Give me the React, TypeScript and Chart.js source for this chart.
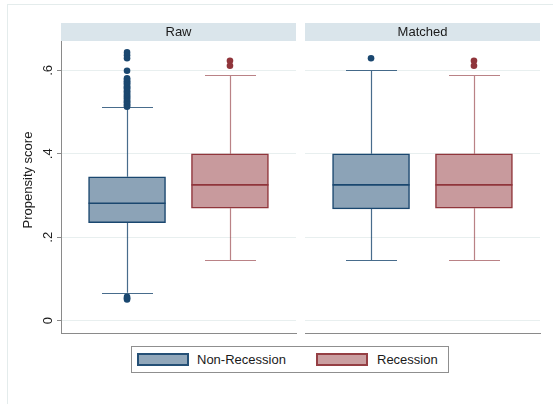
import React, { useEffect, useRef } from 'react';
import { Chart, registerables } from 'chart.js';

Chart.register(...registerables);

const FONT = '"Liberation Sans", Arial, Helvetica, sans-serif';

const groups = ['Non-Recession', 'Recession'];
const groupPositions = [0, 1];
const panelTitles = ['Raw', 'Matched'];
const yTickValues = [0, 0.2, 0.4, 0.6];
const yTickLabels = ['0', '.2', '.4', '.6'];
const yTitle = 'Propensity score';

// Box summaries: lower adjacent, 25th pct, median, 75th pct, upper adjacent
const rawNonRecession = [0.067, 0.235, 0.2815, 0.345, 0.512];
const rawRecession = [0.145, 0.2695, 0.3255, 0.4, 0.589];
const matchedNonRecession = [0.145, 0.268, 0.3255, 0.4, 0.6];
const matchedRecession = [0.145, 0.2695, 0.3255, 0.4, 0.589];

// Values outside the adjacent values
const rawNonRecessionOutliers = [
  0.051, 0.054, 0.057,
  0.513, 0.516, 0.519, 0.523, 0.525, 0.528, 0.532, 0.534, 0.538, 0.541, 0.543,
  0.547, 0.55, 0.553, 0.557, 0.559, 0.562, 0.566, 0.569, 0.572, 0.574, 0.578,
  0.581, 0.599, 0.629, 0.636, 0.643,
];
const rawRecessionOutliers = [0.611, 0.623];
const matchedNonRecessionOutliers = [0.629];
const matchedRecessionOutliers = [0.611, 0.623];

const boxFills = ['#8CA3B7', '#C89A9D'];
const boxLines = ['#1A476F', '#90353B'];
const whiskerColors = ['rgba(26,71,111,0.8)', 'rgba(144,53,59,0.62)'];

const Y_MIN = -0.0295;
const Y_MAX = 0.6703;
const X_MIN = -0.6416;
const X_MAX = 1.6416;
const CAP_HALF = 25.5;

const AXIS_COLOR = '#8a8a8a';
const GRID_COLOR = '#e8efef';
const BAND_COLOR = '#DAE5EB';
const TEXT_COLOR = '#1a1a1a';

function makeBoxPlugin(stats: number[][]) {
  return {
    id: 'boxParts',
    beforeDatasetsDraw(chart: any) {
      const { ctx } = chart;
      const x = chart.scales.x;
      const y = chart.scales.y;
      ctx.save();
      ctx.lineWidth = 1.2;
      stats.forEach((s, i) => {
        const cx = Math.round(x.getPixelForValue(groupPositions[i])) + 0.5;
        ctx.strokeStyle = whiskerColors[i];
        ctx.beginPath();
        ctx.moveTo(cx, y.getPixelForValue(s[0]));
        ctx.lineTo(cx, y.getPixelForValue(s[1]));
        ctx.moveTo(cx, y.getPixelForValue(s[3]));
        ctx.lineTo(cx, y.getPixelForValue(s[4]));
        for (const v of [s[0], s[4]]) {
          const py = Math.round(y.getPixelForValue(v)) + 0.5;
          ctx.moveTo(cx - CAP_HALF, py);
          ctx.lineTo(cx + CAP_HALF, py);
        }
        ctx.stroke();
      });
      ctx.restore();
    },
    afterDatasetsDraw(chart: any) {
      const { ctx } = chart;
      const y = chart.scales.y;
      ctx.save();
      ctx.lineWidth = 1.6;
      stats.forEach((s, i) => {
        const bar = chart.getDatasetMeta(i).data[0];
        if (!bar) return;
        const { x: bx, width } = bar.getProps(['x', 'width'], true);
        const py = y.getPixelForValue(s[2]);
        ctx.strokeStyle = boxLines[i];
        ctx.beginPath();
        ctx.moveTo(bx - width / 2, py);
        ctx.lineTo(bx + width / 2, py);
        ctx.stroke();
      });
      ctx.restore();
    },
  };
}

function makeBandPlugin(title: string) {
  return {
    id: 'panelBand',
    afterDraw(chart: any) {
      const { ctx, chartArea } = chart;
      const h = 18;
      ctx.save();
      ctx.fillStyle = BAND_COLOR;
      ctx.fillRect(chartArea.left, chartArea.top - h, chartArea.right - chartArea.left, h);
      ctx.fillStyle = TEXT_COLOR;
      ctx.font = `13px ${FONT}`;
      ctx.textAlign = 'center';
      ctx.textBaseline = 'middle';
      ctx.fillText(title, (chartArea.left + chartArea.right) / 2, chartArea.top - h / 2 + 0.5);
      ctx.restore();
    },
  };
}

const yTitlePlugin = {
  id: 'yTitle',
  afterDraw(chart: any) {
    const { ctx } = chart;
    ctx.save();
    ctx.translate(28.5, 180);
    ctx.rotate(-Math.PI / 2);
    ctx.fillStyle = TEXT_COLOR;
    ctx.font = `13px ${FONT}`;
    ctx.textAlign = 'center';
    ctx.textBaseline = 'middle';
    ctx.fillText(yTitle, 0, 0);
    ctx.restore();
  },
};

function buildConfig(
  title: string,
  stats: number[][],
  outliers: number[][],
  withAxis: boolean
): any {
  const barSets = stats.map((s, i) => ({
    type: 'bar',
    label: groups[i],
    data: [{ x: groupPositions[i], y: [s[1], s[3]] }],
    backgroundColor: boxFills[i],
    borderColor: boxLines[i],
    borderWidth: 1.5,
    borderSkipped: false,
    grouped: false,
    barPercentage: 1,
    categoryPercentage: 1,
    maxBarThickness: 77,
  }));
  const pointSets = outliers.map((vals, i) => ({
    type: 'scatter',
    label: groups[i] + ' outliers',
    data: vals.map((v) => ({ x: groupPositions[i], y: v })),
    pointRadius: 3.3,
    pointBorderWidth: 0,
    pointBackgroundColor: boxLines[i],
    borderColor: boxLines[i],
  }));
  const plugins: any[] = [makeBoxPlugin(stats), makeBandPlugin(title)];
  if (withAxis) plugins.push(yTitlePlugin);
  return {
    type: 'bar',
    data: { datasets: [...barSets, ...pointSets] },
    plugins,
    options: {
      animation: false,
      responsive: false,
      events: [],
      layout: {
        padding: withAxis
          ? { top: 41, left: 0, right: 4, bottom: 7 }
          : { top: 41, left: 5, right: 13, bottom: 7 },
      },
      plugins: { legend: { display: false }, tooltip: { enabled: false } },
      scales: {
        x: {
          type: 'linear',
          min: X_MIN,
          max: X_MAX,
          offset: false,
          afterBuildTicks: (s: any) => {
            s.ticks = groupPositions.map((v) => ({ value: v }));
          },
          ticks: { display: false },
          grid: { display: false, offset: false },
          border: { display: true, color: AXIS_COLOR, width: 1 },
          afterFit: (s: any) => {
            s.height = 0;
            s.paddingLeft = 0;
            s.paddingRight = 0;
          },
        },
        y: {
          type: 'linear',
          min: Y_MIN,
          max: Y_MAX,
          offset: false,
          afterBuildTicks: (s: any) => {
            s.ticks = yTickValues.map((v) => ({ value: v }));
          },
          afterFit: (s: any) => {
            s.width = withAxis ? 61 : 0;
            s.paddingTop = 0;
            s.paddingBottom = 0;
          },
          ticks: {
            display: withAxis,
            callback: (_v: any, idx: number) => yTickLabels[idx],
            minRotation: 90,
            maxRotation: 90,
            crossAlign: 'center',
            padding: 3.5,
            color: TEXT_COLOR,
            font: { family: FONT, size: 13 },
          },
          grid: {
            color: GRID_COLOR,
            lineWidth: 1,
            drawTicks: withAxis,
            tickLength: 4,
            tickColor: AXIS_COLOR,
          },
          border: { display: withAxis, color: AXIS_COLOR, width: 1 },
        },
      },
    },
  };
}

function Panel(props: {
  title: string;
  stats: number[][];
  outliers: number[][];
  withAxis: boolean;
  left: number;
  width: number;
}) {
  const ref = useRef<HTMLCanvasElement | null>(null);
  useEffect(() => {
    if (!ref.current) return;
    const chart = new Chart(
      ref.current,
      buildConfig(props.title, props.stats, props.outliers, props.withAxis)
    );
    return () => chart.destroy();
  }, []);
  return (
    <canvas
      ref={ref}
      width={props.width}
      height={340}
      style={{ position: 'absolute', left: props.left, top: 0, width: props.width, height: 340 }}
    />
  );
}

const swatch = (i: number, left: number): React.CSSProperties => ({
  position: 'absolute',
  left,
  top: 6,
  width: 52,
  height: 13,
  boxSizing: 'border-box',
  background: boxFills[i],
  border: `2px solid ${boxLines[i]}`,
  opacity: 0.95,
});

const legendText = (left: number): React.CSSProperties => ({
  position: 'absolute',
  left,
  top: 0,
  height: 25,
  lineHeight: '25px',
  fontFamily: FONT,
  fontSize: 13,
  color: TEXT_COLOR,
  whiteSpace: 'nowrap',
});

export default function App() {
  return (
    <div
      style={{
        position: 'fixed',
        left: 0,
        top: 0,
        width: 553,
        height: 404,
        background: '#ffffff',
        overflow: 'hidden',
      }}
    >
      <div
        style={{
          position: 'absolute',
          left: 7,
          top: 4,
          right: 0,
          bottom: 0,
          borderTop: '1px solid #e4ecec',
          borderLeft: '1px solid #e4ecec',
        }}
      />
      <Panel
        title={panelTitles[0]}
        stats={[rawNonRecession, rawRecession]}
        outliers={[rawNonRecessionOutliers, rawRecessionOutliers]}
        withAxis={true}
        left={0}
        width={300}
      />
      <Panel
        title={panelTitles[1]}
        stats={[matchedNonRecession, matchedRecession]}
        outliers={[matchedNonRecessionOutliers, matchedRecessionOutliers]}
        withAxis={false}
        left={300}
        width={253}
      />
      <div
        style={{
          position: 'absolute',
          left: 131,
          top: 346,
          width: 318,
          height: 27,
          boxSizing: 'border-box',
          border: '1px solid #8f8f8f',
          background: '#ffffff',
        }}
      >
        <div style={swatch(0, 5)} />
        <div style={legendText(65)}>{groups[0]}</div>
        <div style={swatch(1, 184)} />
        <div style={legendText(245)}>{groups[1]}</div>
      </div>
    </div>
  );
}
